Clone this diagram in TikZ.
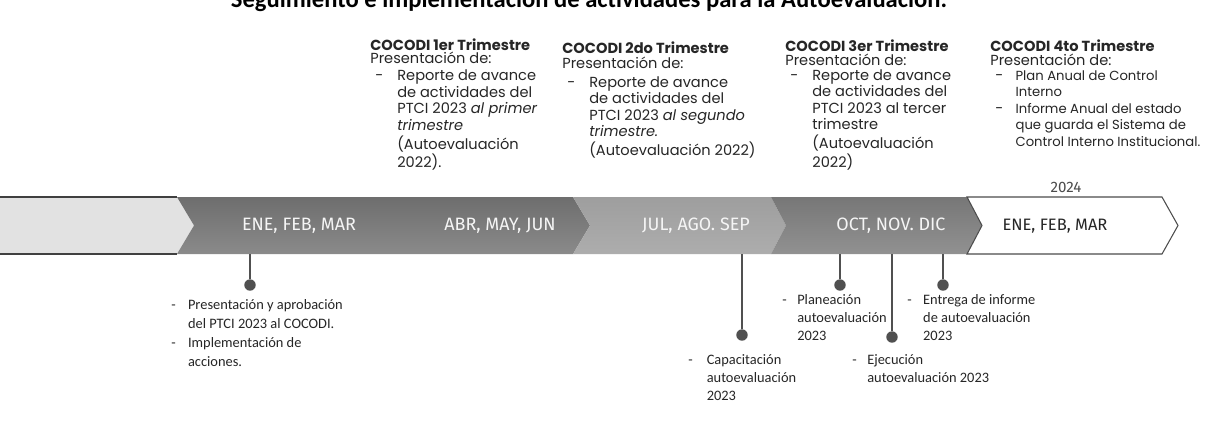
\documentclass[tikz,border=0pt]{standalone}
\usepackage{fontspec}
\setmainfont{Poppins}
\newfontfamily\calib{Carlito}
\newfontfamily\firaf{Fira Sans}
\definecolor{segA}{HTML}{E2E2E2}
\definecolor{segBt}{HTML}{6E6E6E}
\definecolor{segBb}{HTML}{8A8A8A}
\definecolor{segCt}{HTML}{9E9E9E}
\definecolor{segCb}{HTML}{ADADAD}
\definecolor{segDt}{HTML}{777777}
\definecolor{segDb}{HTML}{919191}
\definecolor{conncol}{HTML}{505050}
\definecolor{txtcol}{HTML}{262626}
\newcommand{\topfnt}{\fontsize{8.3}{9.4}\selectfont}
\newcommand{\botfnt}{\calib\fontsize{8.2}{10.2}\selectfont}
\begin{document}
\begin{tikzpicture}[x=0.02cm,y=-0.02cm,
  toptxt/.style={anchor=base west,inner sep=0pt,font=\topfnt,text=txtcol},
  bottxt/.style={anchor=base west,inner sep=0pt,font=\botfnt,text=txtcol},
  bandlbl/.style={inner sep=0pt,font=\firaf\fontsize{10.2}{12}\selectfont,text=white!96!black},
  conn/.style={draw=conncol,line width=0.7pt},
  dotnode/.style={circle,fill=conncol,inner sep=0pt,minimum size=6.5pt}]
\path[use as bounding box] (0,0) rectangle (1215,424);
\clip (0,0) rectangle (1215,424);
\fill[white] (0,0) rectangle (1215,424);

% title (cut off at the top)
\node[anchor=base,inner sep=0pt,font=\calib\bfseries\fontsize{14}{16}\selectfont] (ttl) at (589,7)
  {Seguimiento e implementación de actividades para la Autoevaluación.};

% band segments
\fill[segA] (0,197) -- (177,197) -- (194,225.5) -- (177,254) -- (0,254) -- cycle;
\draw[black!75,line width=0.7pt] (0,197) -- (177,197) (0,254) -- (177,254);
\shade[top color=segBt,bottom color=segBb] (177,197) -- (573,197) -- (590,225.5) -- (573,254) -- (177,254) -- (194,225.5) -- cycle;
\shade[top color=segCt,bottom color=segCb] (573,197) -- (771,197) -- (786,225.5) -- (771,254) -- (573,254) -- (590,225.5) -- cycle;
\shade[top color=segDt,bottom color=segDb] (771,197) -- (967,197) -- (982,225.5) -- (967,254) -- (771,254) -- (786,225.5) -- cycle;
\draw[black!70,line width=0.6pt,fill=white] (967,197) -- (1162,197) -- (1178,225.5) -- (1162,254) -- (967,254) -- (982,225.5) -- cycle;

% band labels
\node[bandlbl] (q1) at (299,226) {ENE, FEB, MAR};
\node[bandlbl] (q2) at (500,226) {ABR, MAY, JUN};
\node[bandlbl] (q3) at (696,226) {JUL, AGO. SEP};
\node[bandlbl] (q4) at (891,226) {OCT, NOV. DIC};
\node[bandlbl,text=txtcol,font=\firaf\fontsize{9.4}{11}\selectfont] (q5) at (1055,226) {ENE, FEB, MAR};
\node[inner sep=0pt,font=\firaf\fontsize{8.6}{10}\selectfont,text=black!70] (yr) at (1066,187) {2024};

% top columns
\node[toptxt] (c1) at (370,50) {\begin{tabular}[t]{@{\hspace{2.8pt}}l@{\hspace{8pt}}l@{}}
\multicolumn{2}{@{}l@{}}{\textbf{COCODI 1er Trimestre}}\\[-1.8pt]
\multicolumn{2}{@{}l@{}}{Presentación de:}\\[0.6pt]
- & Reporte de avance\\
  & de actividades del\\
  & PTCI 2023 \textit{al primer}\\
  & \textit{trimestre}\\
  & (Autoevaluación\\
  & 2022).
\end{tabular}};
\node[toptxt] (c2) at (562,53) {\begin{tabular}[t]{@{\hspace{2.8pt}}l@{\hspace{8pt}}l@{}}
\multicolumn{2}{@{}l@{}}{\textbf{COCODI 2do Trimestre}}\\[-0.6pt]
\multicolumn{2}{@{}l@{}}{Presentación de:}\\[1.2pt]
- & Reporte de avance\\
  & de actividades del\\
  & PTCI 2023 \textit{al segundo}\\
  & \textit{trimestre.}\\
  & (Autoevaluación 2022)
\end{tabular}};
\node[toptxt] (c3) at (785,51) {\begin{tabular}[t]{@{\hspace{2.8pt}}l@{\hspace{8pt}}l@{}}
\multicolumn{2}{@{}l@{}}{\textbf{COCODI 3er Trimestre}}\\[-1.2pt]
\multicolumn{2}{@{}l@{}}{Presentación de:}\\[-0.9pt]
- & Reporte de avance\\
  & de actividades del\\
  & PTCI 2023 al tercer\\
  & trimestre\\
  & (Autoevaluación\\
  & 2022)
\end{tabular}};
\node[toptxt] (c4) at (990,51) {\begin{tabular}[t]{@{\hspace{2.8pt}}l@{\hspace{7pt}}l@{}}
\multicolumn{2}{@{}l@{}}{\textbf{COCODI 4to Trimestre}}\\[-1.2pt]
\multicolumn{2}{@{}l@{}}{Presentación de:}\\[-0.9pt]
- & \fontsize{7.5}{9.4}\selectfont Plan Anual de Control\\
  & \fontsize{7.5}{9.4}\selectfont Interno\\
- & \fontsize{7.5}{9.4}\selectfont Informe Anual del estado\\
  & \fontsize{7.5}{9.4}\selectfont que guarda el Sistema de\\
  & \fontsize{7.5}{9.4}\selectfont Control Interno Institucional.
\end{tabular}};

% connectors and dots
\coordinate (b1) at (250,254);
\coordinate (b2) at (742,254);
\coordinate (b3) at (840,254);
\coordinate (b4) at (892,254);
\coordinate (b5) at (943,254);
\node[dotnode] (d1) at (250,285) {};
\node[dotnode] (d2) at (742,335) {};
\node[dotnode] (d3) at (840,285) {};
\node[dotnode] (d4) at (892,337) {};
\node[dotnode] (d5) at (943,285) {};
\draw[conn] (b1) -- (d1);
\draw[conn] (b2) -- (d2);
\draw[conn] (b3) -- (d3);
\draw[conn] (b4) -- (d4);
\draw[conn] (b5) -- (d5);

% bottom texts
\node[bottxt,font=\calib\fontsize{8.2}{10.8}\selectfont] (t1) at (171,309.5) {\begin{tabular}[t]{@{}l@{\hspace{7pt}}l@{}}
- & Presentación y aprobación\\
  & del PTCI 2023 al COCODI.\\
- & Implementación de\\
  & acciones.
\end{tabular}};
\node[bottxt] (t2) at (688,364.5) {\begin{tabular}[t]{@{}l@{\hspace{8pt}}l@{}}
- & Capacitación\\
  & autoevaluación\\
  & 2023
\end{tabular}};
\node[bottxt] (t3) at (782,304.5) {\begin{tabular}[t]{@{}l@{\hspace{6pt}}l@{}}
- & Planeación\\
  & autoevaluación\\
  & 2023
\end{tabular}};
\node[bottxt] (t4) at (852,364.5) {\begin{tabular}[t]{@{}l@{\hspace{6pt}}l@{}}
- & Ejecución\\
  & autoevaluación 2023
\end{tabular}};
\node[bottxt] (t5) at (907,304.5) {\begin{tabular}[t]{@{}l@{\hspace{6.5pt}}l@{}}
- & Entrega de informe\\
  & de autoevaluación\\
  & 2023
\end{tabular}};
\end{tikzpicture}
\end{document}
